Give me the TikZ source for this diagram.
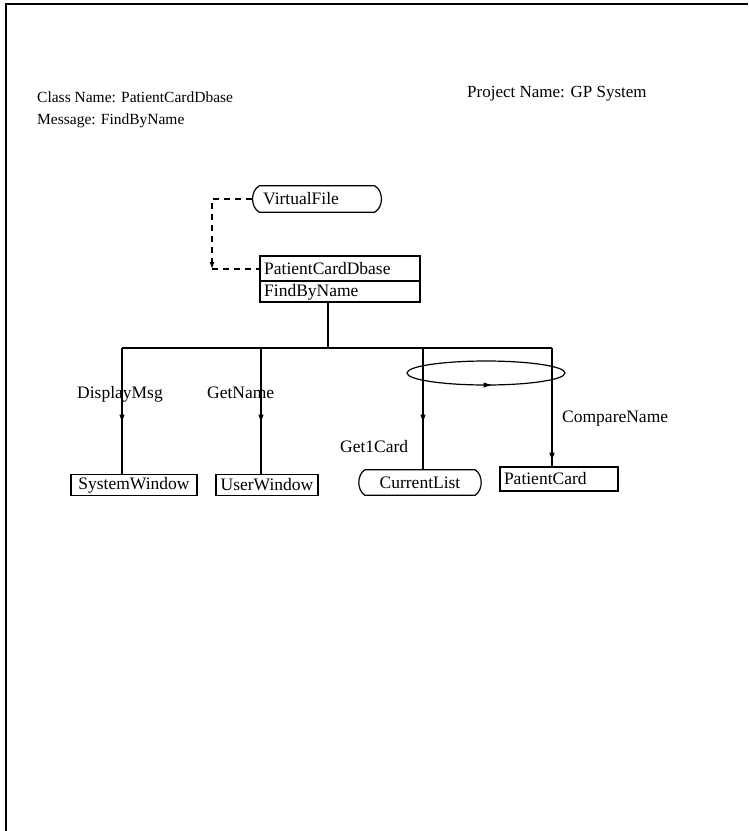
\documentclass[tikz,border=0pt]{standalone}
\usepackage{fontspec}
\setmainfont{Liberation Serif}
\usetikzlibrary{arrows.meta,decorations.markings}
\tikzset{
  lbl/.style={inner sep=0pt, font=\fontsize{17.5}{20}\selectfont},
  hdr/.style={inner sep=0pt, anchor=base west, font=\fontsize{15.5}{19}\selectfont},
  objbox/.style={draw, line width=1.2pt, inner sep=1.5pt, font=\fontsize{17.5}{20}\selectfont},
  rndbox/.style={inner sep=1.5pt, font=\fontsize{17.5}{20}\selectfont},
  conn/.style={line width=1.2pt},
  dashline/.style={line width=1.3pt, dash pattern=on 6pt off 5pt},
  arrowat/.style={postaction={decorate}, decoration={markings, mark=at position #1 with {\arrow{Latex[length=9pt,width=5.5pt]}}}},
}
\newcommand{\curvedsides}[2]{% node name, bulge
  \draw[line width=1.2pt] (#1.north west) -- (#1.north east)
    .. controls +(#2,5) and +(#2,-5) .. (#1.south east)
    -- (#1.south west)
    .. controls +(-#2,-5) and +(-#2,5) .. (#1.north west);
}
\begin{document}
\begin{tikzpicture}[x=1pt,y=-1pt]
\useasboundingbox (0,0) rectangle (748,831);
% frame
\draw[line width=1.8pt] (6,831) -- (6,4) -- (748,4);

% header
\node[hdr] (cn) at (37,102) {Class Name: PatientCardDbase};
\node[hdr] (msg) at (37,124) {Message: FindByName};
\node[hdr, font=\fontsize{17}{19}\selectfont] (pn) at (467,97) {Project Name: GP System};

% VirtualFile
\node[rndbox, minimum width=115pt, minimum height=26pt] (vf) at (317,199) {};
\node[lbl, anchor=west] (vft) at (263,199) {VirtualFile};
\curvedsides{vf}{9}

% PatientCardDbase
\node[objbox, minimum width=160pt, minimum height=46pt] (pcd) at (340,279) {};
\node[lbl, anchor=west] (pcdn) at (264,269) {PatientCardDbase};
\node[lbl, anchor=west] (pcdm) at (264,292) {FindByName};
\draw[conn] (pcd.west |- 0,281) -- (pcd.east |- 0,281);

% dashed link
\coordinate (dc1) at (212,199);
\coordinate (dc2) at (212,269);
\draw[dashline, -{Latex[length=7pt,width=5pt]}] ([xshift=-7pt]vf.west) -- (dc1) -- (dc2);
\draw[dashline] (dc2) -- (pcd.west |- dc2);

% bus
\coordinate (j) at (328,348);
\coordinate (b1) at (122,348);
\coordinate (b2) at (261,348);
\coordinate (b3) at (423,348);
\coordinate (b4) at (552,348);
\draw[conn] (pcd.south -| j) -- (j);
\draw[conn] (b1) -- (b4);

% targets
\node[objbox, minimum width=126pt, minimum height=21pt] (sw) at (134,485) {SystemWindow};
\node[objbox, minimum width=102pt, minimum height=21pt] (uw) at (267,485) {UserWindow};
\node[rndbox, minimum width=110pt, minimum height=25pt] (cl) at (420,482.5) {CurrentList};
\curvedsides{cl}{8}
\node[objbox, minimum width=118pt, minimum height=24pt, text width=110pt, align=left] (pc) at (559,479) {PatientCard};

% branches
\draw[conn, arrowat=0.6] (b1) -- (b1 |- sw.north);
\draw[conn, arrowat=0.6] (b2) -- (b2 |- uw.north);
\draw[conn, arrowat=0.62] (b3) -- (b3 |- cl.north);
\draw[conn, arrowat=0.96] (b4) -- (b4 |- pc.north);

% iteration ellipse
\draw[conn, postaction={decorate}, decoration={markings, mark=at position 0.23 with {\arrowreversed{Latex[length=9pt,width=5.5pt]}}}]
  (486,373) ellipse [x radius=79, y radius=12];

% labels
\node[lbl, anchor=base west] (l1) at (77,398) {DisplayMsg};
\node[lbl, anchor=base west] (l2) at (207,398) {GetName};
\node[lbl, anchor=base west] (l3) at (340,452) {Get1Card};
\node[lbl, anchor=base west] (l4) at (562,422) {CompareName};
\end{tikzpicture}
\end{document}
